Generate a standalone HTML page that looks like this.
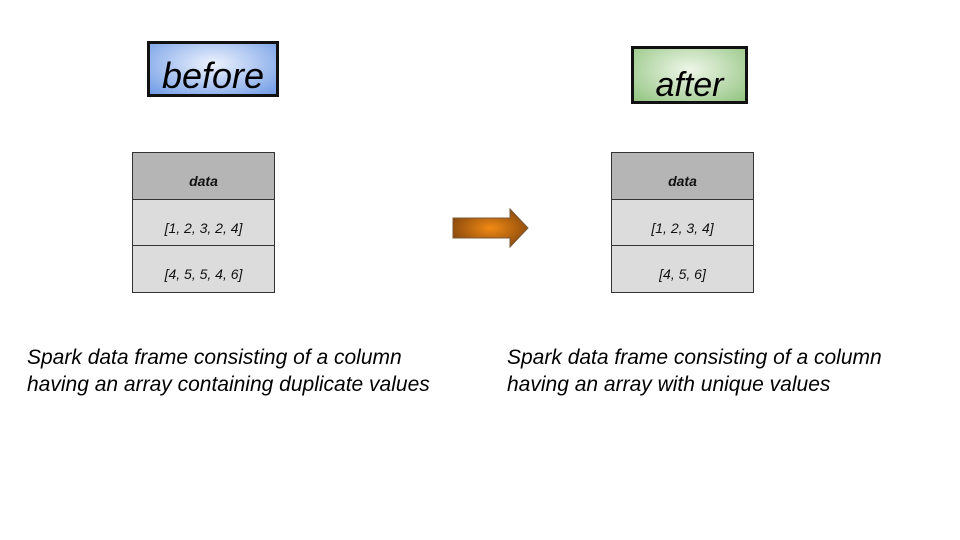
<!DOCTYPE html>
<html><head><style>
body{margin:0;width:960px;height:540px;background:#fff;position:relative;overflow:hidden;font-family:"Comic Sans MS","Liberation Sans",sans-serif;}
.abs{position:absolute;}
.tag{border:3px solid #111;box-sizing:border-box;font-style:italic;color:#000;text-align:center;}
.tbl{position:absolute;box-sizing:border-box;}
.row{position:absolute;left:0;width:100%;box-sizing:border-box;border:1.5px solid #333;display:flex;align-items:center;justify-content:center;font-style:italic;font-size:14px;color:#111;padding-top:10px;}
.cap{position:absolute;font-style:italic;font-size:21px;line-height:27px;color:#000;white-space:nowrap;}
</style></head><body>
<div class="abs tag" style="left:147px;top:41px;width:132px;height:56px;background:radial-gradient(ellipse at 50% 40%,#eef3fd,#6f9be6);font-size:36px;line-height:64px;">before</div>
<div class="abs tag" style="left:631px;top:46px;width:117px;height:58px;background:radial-gradient(ellipse at 50% 40%,#eef6e8,#92c480);font-size:34px;line-height:72px;">after</div>

<div class="tbl" style="left:132px;top:152px;width:143px;height:141px;">
<div class="row" style="top:0;height:48px;background:#b5b5b5;font-weight:bold;">data</div>
<div class="row" style="top:47px;height:47px;background:#dcdcdc;">[1, 2, 3, 2, 4]</div>
<div class="row" style="top:93px;height:48px;background:#dcdcdc;">[4, 5, 5, 4, 6]</div>
</div>
<div class="tbl" style="left:611px;top:152px;width:143px;height:141px;">
<div class="row" style="top:0;height:48px;background:#b5b5b5;font-weight:bold;">data</div>
<div class="row" style="top:47px;height:47px;background:#dcdcdc;">[1, 2, 3, 4]</div>
<div class="row" style="top:93px;height:48px;background:#dcdcdc;">[4, 5, 6]</div>
</div>

<svg class="abs" style="left:450px;top:205px" width="82" height="46">
<defs><radialGradient id="g" cx="50%" cy="50%" r="55%"><stop offset="0" stop-color="#f28a14"/><stop offset="1" stop-color="#8a4a0c"/></radialGradient></defs>
<polygon points="3,13 60,13 60,4 78,23 60,42 60,33 3,33" fill="url(#g)" stroke="#7a5a3a" stroke-width="1"/>
</svg>

<div class="cap" style="left:27px;top:344px;">Spark data frame consisting of a column<br>having an array containing duplicate values</div>
<div class="cap" style="left:507px;top:344px;">Spark data frame consisting of a column<br>having an array with unique values</div>
</body></html>
